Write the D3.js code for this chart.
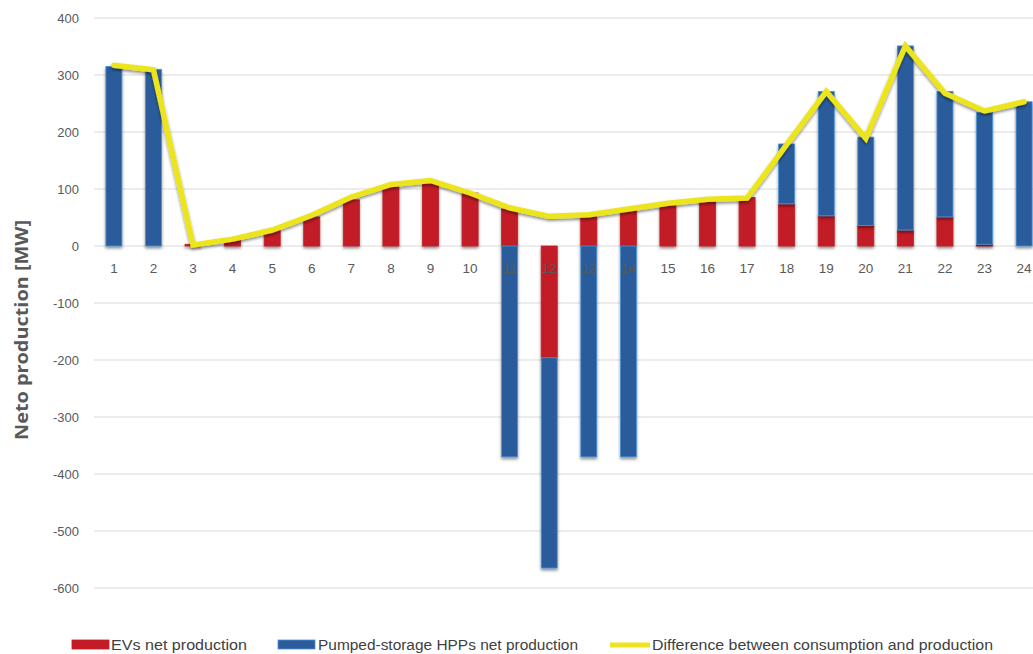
<!DOCTYPE html>
<html><head><meta charset="utf-8">
<script src="https://cdn.jsdelivr.net/npm/d3@7"></script>
<style>body{margin:0;background:#fff;overflow:hidden}svg{display:block}</style>
</head><body>
<svg id="c" width="1033" height="654"></svg>
<script>
const hours = ["1","2","3","4","5","6","7","8","9","10","11","12","13","14","15","16","17","18","19","20","21","22","23","24"];
const evs = [0,0,3,10,27,51,81,104,110,93,65,-196,55,65,73,80,85,74,53,36,28,51,3,0];
const hpp = [315,310,0,0,0,0,0,0,0,0,-370,-369,-370,-370,0,0,0,105,218,155,323,220,231,253];
const diff = [317,309,2,12,28,54,86,108,115,93,67,52,55,65,75,82,84,178,271,189,351,268,237,253];
const yTicks = [400,300,200,100,0,-100,-200,-300,-400,-500,-600];
const seriesNames = ["EVs net production","Pumped-storage HPPs net production","Difference between consumption and production"];

const svg = d3.select("#c");
const x = d3.scaleBand().domain(hours).range([94, 1044]).paddingInner(0.595).paddingOuter(0.3);
const y = d3.scaleLinear().domain([-600, 400]).range([588, 18]);

const defs = svg.append("defs");
const f = defs.append("filter").attr("id","sh").attr("x","-30%").attr("y","-10%").attr("width","160%").attr("height","130%");
f.append("feDropShadow").attr("dx",0).attr("dy",2).attr("stdDeviation",1.6).attr("flood-color","#000").attr("flood-opacity",0.45);

// grid
svg.append("g").selectAll("line").data(yTicks).join("line")
  .attr("x1", 94).attr("x2", 1033).attr("y1", d => y(d)).attr("y2", d => y(d))
  .attr("stroke", "#d9d9d9").attr("stroke-width", 1);

// y tick labels
svg.append("g").selectAll("text").data(yTicks).join("text")
  .attr("x", 79).attr("y", d => y(d)).attr("dy", "0.35em").attr("text-anchor","end")
  .attr("font-family","Liberation Sans, Arial, sans-serif").attr("font-size", 13).attr("fill","#595959")
  .text(d => d);

// stacked bars
const rows = hours.map((h,i) => ({h, ev: evs[i], hp: hpp[i]}));
const stack = d3.stack().keys(["ev","hp"]).offset(d3.stackOffsetDiverging)(rows);
const colors = {ev:"#c21d26", hp:"#2c5c9c"};
const strokes = {ev:"#c21d26", hp:"#4d94d6"};
stack.forEach(s => {
  svg.append("g").attr("filter","url(#sh)").selectAll("rect").data(s).join("rect")
    .attr("x", d => x(d.data.h)).attr("width", x.bandwidth())
    .attr("y", d => y(Math.max(d[0], d[1])))
    .attr("height", d => Math.abs(y(d[0]) - y(d[1])))
    .attr("fill", colors[s.key])
    .attr("stroke", d => Math.abs(d[1]-d[0]) > 0 ? strokes[s.key] : "none")
    .attr("stroke-width", 0.8);
});

// x labels
svg.append("g").selectAll("text").data(hours).join("text")
  .attr("x", d => x(d) + x.bandwidth()/2).attr("y", 273).attr("text-anchor","middle")
  .attr("font-family","Liberation Sans, Arial, sans-serif").attr("font-size", 13.5).attr("fill","#595959")
  .text(d => d);

// line
const line = d3.line().x((d,i) => x(hours[i]) + x.bandwidth()/2).y(d => y(d));
svg.append("path").datum(diff).attr("d", line).attr("fill","none")
  .attr("stroke","#ede51f").attr("stroke-width",5.5).attr("stroke-linejoin","miter").attr("stroke-linecap","round")
  .attr("filter","url(#sh)");

// y axis title
svg.append("text").attr("transform","translate(28,330) rotate(-90)").attr("text-anchor","middle")
  .attr("font-family","Open Sans, sans-serif").attr("font-weight","bold").attr("font-size",17).attr("fill","#595959")
  .attr("textLength",220).attr("lengthAdjust","spacingAndGlyphs")
  .text("Neto production [MW]");

// legend
const lg = svg.append("g").attr("font-family","Liberation Sans Narrow, Liberation Sans, sans-serif").attr("font-size",14).attr("fill","#404040");
const items = [
  {sx:72, sw:37, tx:111, tw:136, type:"rect", c:colors.ev, st:colors.ev},
  {sx:278, sw:37, tx:318, tw:260, type:"rect", c:colors.hp, st:strokes.hp},
  {sx:610, sw:40, tx:652, tw:341, type:"line", c:"#ede51f"}
];
items.forEach((it,i) => {
  if (it.type === "rect") {
    lg.append("rect").attr("x",it.sx).attr("y",640).attr("width",it.sw).attr("height",9).attr("fill",it.c).attr("stroke",it.st).attr("stroke-width",0.8);
  } else {
    lg.append("line").attr("x1",it.sx).attr("x2",it.sx+it.sw).attr("y1",645).attr("y2",645).attr("stroke",it.c).attr("stroke-width",5);
  }
  lg.append("text").attr("x",it.tx).attr("y",650).attr("textLength",it.tw).attr("lengthAdjust","spacingAndGlyphs").text(seriesNames[i]);
});
</script>
</body></html>
